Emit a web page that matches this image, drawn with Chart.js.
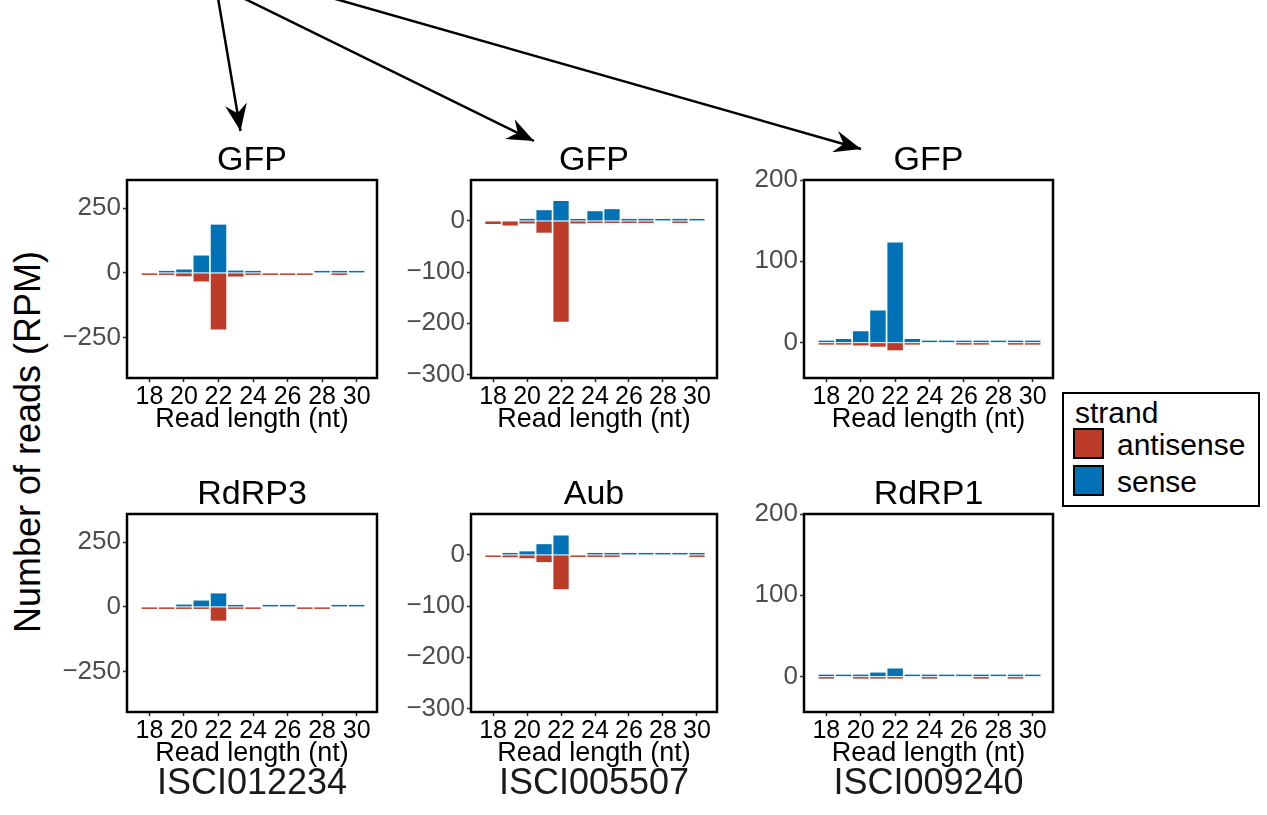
<!DOCTYPE html>
<html>
<head>
<meta charset="utf-8">
<script src="https://cdn.jsdelivr.net/npm/chart.js@4"></script>
<style>
  html, body { margin: 0; padding: 0; background: #fff; }
  body { width: 1267px; height: 815px; overflow: hidden; position: relative; font-family: 'Liberation Sans', Arial, Helvetica, sans-serif; }
  canvas { position: absolute; }
  .txt { position: absolute; white-space: nowrap; }
  .lib { font-size: 36px; line-height: 36px; color: #1a1a1a; transform: translateX(-50%); }
  #ytitle { font-size: 36px; line-height: 36px; color: #000; transform: translate(-50%, -50%) rotate(-90deg); }
  #legend { position: absolute; left: 1062px; top: 392px; width: 194px; height: 111px; border: 2.5px solid #000; background: #fff; }
  #legend .t { position: absolute; font-size: 30px; line-height: 30px; color: #000; }
  #legend .sw { position: absolute; width: 27px; height: 27px; border: 2.5px solid #000; }
</style>
</head>
<body>
<svg width="1267" height="815" style="position:absolute;left:0;top:0">
  <defs>
    <marker id="ah" markerUnits="userSpaceOnUse" markerWidth="28" markerHeight="22" refX="27" refY="11" orient="auto">
      <path d="M0,0 L27,11 L0,22 L9,11 Z" fill="#000"/>
    </marker>
  </defs>
  <line x1="218" y1="-2" x2="240.5" y2="131" stroke="#000" stroke-width="2.5" marker-end="url(#ah)"/>
  <line x1="243" y1="-2" x2="534" y2="141" stroke="#000" stroke-width="2.5" marker-end="url(#ah)"/>
  <line x1="332" y1="-2" x2="861" y2="149" stroke="#000" stroke-width="2.5" marker-end="url(#ah)"/>
</svg>

<div id="ytitle" class="txt" style="left:28px;top:442px;">Number of reads (RPM)</div>

<div id="legend">
  <div class="t" style="left:11px;top:4px;">strand</div>
  <div class="sw" style="left:9px;top:34px;background:#BC3C29;"></div>
  <div class="t" style="left:53px;top:36px;">antisense</div>
  <div class="sw" style="left:9px;top:71px;background:#0072B5;"></div>
  <div class="t" style="left:53px;top:73px;">sense</div>
</div>

<script>
// ---------------- data ----------------
const readLengths = [18, 19, 20, 21, 22, 23, 24, 25, 26, 27, 28, 29, 30];
const xTickValues = [18, 20, 22, 24, 26, 28, 30];
const panelTitles = ['GFP', 'GFP', 'GFP', 'RdRP3', 'Aub', 'RdRP1'];
const libraryNames = ['ISCI012234', 'ISCI005507', 'ISCI009240'];
const strandNames = ['antisense', 'sense'];

const yTicksCol1 = [-250, 0, 250];
const yTicksCol2 = [-300, -200, -100, 0];
const yTicksCol3 = [0, 100, 200];

// GFP, ISCI012234
const senseGFP012234     = [null, 3, 13, 67, 186, 9, 3, null, null, null, 1, 1, 1];
const antisenseGFP012234 = [-2, -6, -13, -33, -218, -14, -5, -2, -2, -2, null, -1, null];
// GFP, ISCI005507
const senseGFP005507     = [null, null, 4, 21, 39, 2, 19, 23, 3, 4, 3, 4, 1];
const antisenseGFP005507 = [-6, -9, -5, -23, -197, -5, -2, -1.5, -1, -1, null, -1, null];
// GFP, ISCI009240
const senseGFP009240     = [1, 4.5, 14, 39.5, 123, 4.5, 1, 1, 0.3, 0.3, 1, 0.3, 0.3];
const antisenseGFP009240 = [-1, -1, -3.5, -5, -9.5, -1, null, null, -0.3, -0.3, null, -0.3, -0.3];
// RdRP3, ISCI012234
const senseRdRP3     = [null, null, 9, 24.5, 52, 5, null, 1, 1, null, null, 1, 1];
const antisenseRdRP3 = [-1, -1, -3, -6.5, -53, -3, -1, null, null, -1, -1, null, null];
// Aub, ISCI005507
const senseAub     = [null, 1.5, 7, 21, 38, null, 1.5, 1.5, 1, 1.5, 1, 1, 0.5];
const antisenseAub = [-1, -4.5, -6.5, -14, -67, -1, -2.5, -2.5, null, null, null, null, -0.5];
// RdRP1, ISCI009240
const senseRdRP1     = [0.3, 1, 2.5, 5, 10, 0.5, 0.3, 0.5, 0.5, 0.3, 0.5, 0.3, 0.5];
const antisenseRdRP1 = [-0.3, null, -0.8, -0.8, -0.8, null, -0.3, null, null, -0.3, null, -0.3, null];

// ---------------- layout / style ----------------
const RED = '#BC3C29', BLUE = '#0072B5';
const FONT = "'Liberation Sans', Arial, Helvetica, sans-serif";
Chart.defaults.font.family = FONT;

const YW = 70, XH = 55, RP = 10, TITLE_FS = 34, TITLE_PB = 2;
const colBoxes = [ {l: 127, r: 377}, {l: 471, r: 717}, {l: 804, r: 1053} ];
const rowBoxes = [ {t: 180, b: 378}, {t: 514, b: 712} ];
const colY = [
  {min: -405, max: 358, ticks: yTicksCol1},
  {min: -307, max: 80, ticks: yTicksCol2},
  {min: -43.5, max: 200, ticks: yTicksCol3}
];
const X_MIN = 16.7, X_MAX = 31.18;

const panels = [
  {row: 0, col: 0, sense: senseGFP012234, anti: antisenseGFP012234},
  {row: 0, col: 1, sense: senseGFP005507, anti: antisenseGFP005507},
  {row: 0, col: 2, sense: senseGFP009240, anti: antisenseGFP009240},
  {row: 1, col: 0, sense: senseRdRP3, anti: antisenseRdRP3},
  {row: 1, col: 1, sense: senseAub, anti: antisenseAub},
  {row: 1, col: 2, sense: senseRdRP1, anti: antisenseRdRP1}
];

const boxPlugin = {
  id: 'panelBox',
  afterDraw(chart) {
    const {ctx, chartArea: a} = chart;
    ctx.save();
    ctx.strokeStyle = '#000';
    ctx.lineWidth = 2.5;
    ctx.strokeRect(a.left, a.top, a.right - a.left, a.bottom - a.top);
    ctx.restore();
  }
};

const fmt = v => (v < 0 ? '\u2212' + Math.abs(v) : String(v));

panels.forEach((p, i) => {
  const cb = colBoxes[p.col], rb = rowBoxes[p.row], ys = colY[p.col];
  const canvas = document.createElement('canvas');
  const titleH = TITLE_FS + TITLE_PB;
  const w = YW + (cb.r - cb.l) + RP;
  const h = titleH + (rb.b - rb.t) + XH;
  canvas.width = w; canvas.height = h;
  canvas.style.left = (cb.l - YW) + 'px';
  canvas.style.top = (rb.t - titleH) + 'px';
  canvas.style.width = w + 'px'; canvas.style.height = h + 'px';
  document.body.appendChild(canvas);

  new Chart(canvas, {
    type: 'bar',
    data: {
      datasets: [
        { label: strandNames[0], data: readLengths.map((x, j) => ({x, y: p.anti[j]})),
          backgroundColor: RED, stack: 's', minBarLength: 2, borderWidth: 0 },
        { label: strandNames[1], data: readLengths.map((x, j) => ({x, y: p.sense[j]})),
          backgroundColor: BLUE, stack: 's', minBarLength: 2, borderWidth: 0 }
      ]
    },
    options: {
      responsive: false, animation: false, devicePixelRatio: 1,
      categoryPercentage: 1.0, barPercentage: 0.9,
      layout: { padding: { left: 0, right: RP, top: 0, bottom: 0 } },
      plugins: {
        legend: { display: false }, tooltip: { enabled: false },
        title: { display: true, fullSize: false, text: panelTitles[i], color: '#000',
                 font: { size: TITLE_FS, lineHeight: 1, weight: 'normal' },
                 padding: { top: 0, bottom: TITLE_PB } }
      },
      scales: {
        x: {
          type: 'linear', min: X_MIN, max: X_MAX, offset: false,
          grid: { display: true, offset: false, drawOnChartArea: false, drawTicks: true, tickLength: 4, tickColor: '#222', tickWidth: 1.5 },
          border: { display: false },
          ticks: { color: '#000', font: { size: 25 }, padding: 0, maxRotation: 0, autoSkip: false, callback: v => String(v) },
          afterBuildTicks: s => { s.ticks = xTickValues.map(v => ({value: v})); },
          afterFit: s => { s.height = XH; },
          title: { display: true, text: 'Read length (nt)', color: '#000', font: { size: 27, lineHeight: 1 }, padding: { top: 0, bottom: 0 } }
        },
        y: {
          type: 'linear', min: ys.min, max: ys.max, stacked: true,
          grid: { display: true, drawOnChartArea: false, drawTicks: true, tickLength: 4, tickColor: '#333', tickWidth: 1.5 },
          border: { display: false },
          ticks: { color: '#4D4D4D', font: { size: 26 }, padding: 2, callback: v => fmt(v) },
          afterBuildTicks: s => { s.ticks = ys.ticks.map(v => ({value: v})); },
          afterFit: s => { s.width = YW; }
        }
      }
    },
    plugins: [boxPlugin]
  });
});

libraryNames.forEach((name, c) => {
  const d = document.createElement('div');
  d.className = 'txt lib';
  d.textContent = name;
  d.style.left = ((colBoxes[c].l + colBoxes[c].r) / 2) + 'px';
  d.style.top = '764px';
  document.body.appendChild(d);
});
</script>
</body>
</html>
